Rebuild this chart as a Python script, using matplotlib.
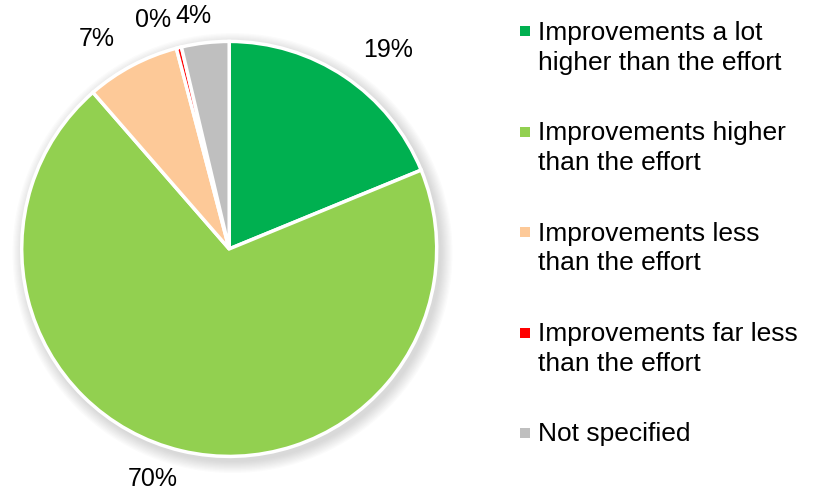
import numpy as np
import matplotlib
matplotlib.use("Agg")
import matplotlib.pyplot as plt
from matplotlib.patches import Circle

categories = ["Improvements a lot\nhigher than the effort",
              "Improvements higher\nthan the effort",
              "Improvements less\nthan the effort",
              "Improvements far less\nthan the effort",
              "Not specified"]
values = [18.8, 69.8, 7.3, 0.4, 3.7]
colors = ["#00B050", "#92D050", "#FDC998", "#FF0000", "#BFBFBF"]

plt.rcParams['font.family'] = ['Liberation Sans', 'DejaVu Sans']

W, H = 813, 491
fig = plt.figure(figsize=(W / 100, H / 100), dpi=100)

cx, cy, r = 229.2, 248.9, 207.5
ax = fig.add_axes([(cx - r) / W, (H - cy - r) / H, 2 * r / W, 2 * r / H])

# soft shadow under the pie
for k in range(10):
    ax.add_patch(Circle((0.016, -0.02), 1.0 + 0.006 * (10 - k), color="#808080",
                        alpha=0.03, lw=0, zorder=0, clip_on=False))

wedges, _ = ax.pie(values, colors=colors, startangle=90, counterclock=False,
                   radius=1.0,
                   wedgeprops=dict(edgecolor="white", linewidth=2.5, zorder=2))
ax.set_xlim(-1, 1)
ax.set_ylim(-1, 1)
ax.set_aspect("equal")
ax.axis("off")

# percentage labels placed outside slices
total = sum(values)
dist = [1.201, 1.200, 1.169, 1.131, 1.101]
angle_adj = [5.8, 4.6, -5.2, -4.8, -2.4]
cum = 0
for i, v in enumerate(values):
    mid = (cum + v / 2) / total * 360
    cum += v
    theta = np.deg2rad(90 - mid - angle_adj[i])
    x, y = dist[i] * np.cos(theta), dist[i] * np.sin(theta)
    ax.text(x, y, f"{round(v / total * 100):d}%", ha="center", va="baseline",
            fontsize=18, color="#000000", clip_on=False)

# legend drawn manually (marker aligned with first line)
lax = fig.add_axes([0, 0, 1, 1])
lax.set_xlim(0, W)
lax.set_ylim(H, 0)
lax.axis("off")
base0, step, lstep = 39.5, 100.5, 30
for i, (lab, col) in enumerate(zip(categories, colors)):
    b = base0 + i * step
    lax.scatter([525], [b - 8.4], marker="s", s=58, color=col, linewidths=0)
    for j, line in enumerate(lab.split("\n")):
        lax.text(538, b + j * lstep, line, ha="left", va="baseline",
                 fontsize=19, color="#000000")

fig.savefig("out.png", dpi=100)
